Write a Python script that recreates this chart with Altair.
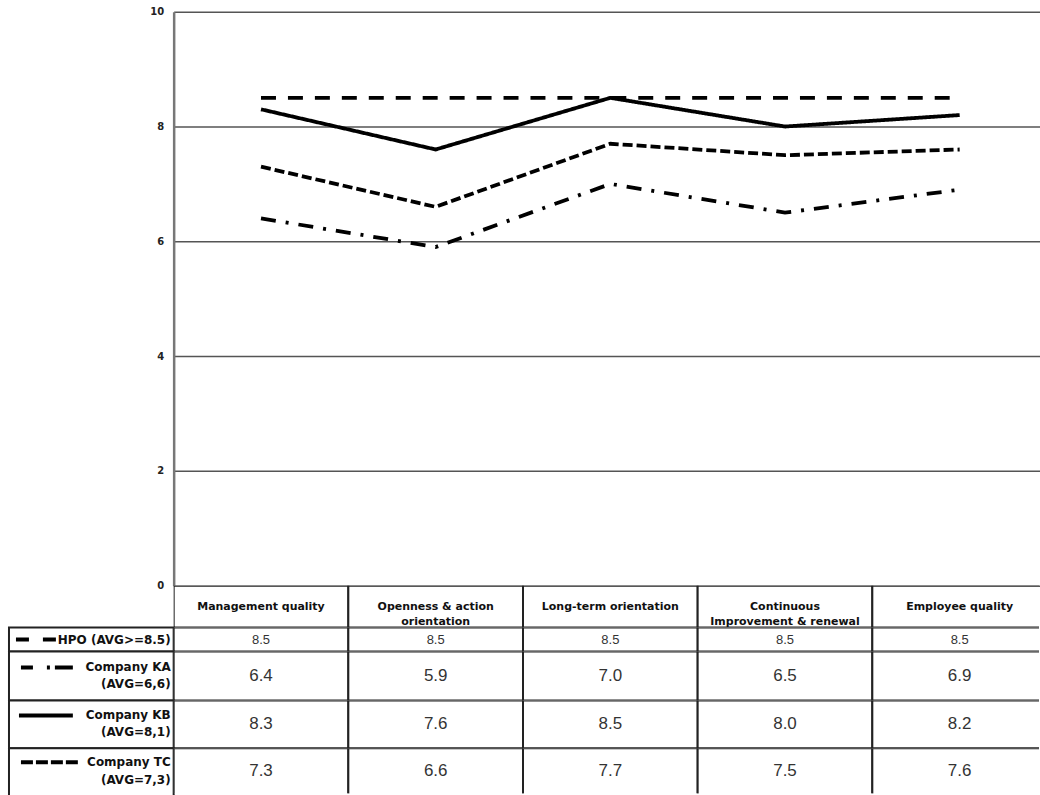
import altair as alt
import pandas as pd

# ---- data ----
categories = ["Management quality", "Openness & action orientation", "Long-term orientation",
              "Continuous improvement & renewal", "Employee quality"]
header_labels = ["Management quality", "Openness & action\norientation", "Long-term orientation",
                 "Continuous\nImprovement & renewal", "Employee quality"]
series_names = ["HPO", "Company KA", "Company KB", "Company TC"]
legend_line1 = ["HPO (AVG>=8.5)", "Company KA", "Company KB", "Company TC"]
legend_line2 = ["", "(AVG=6,6)", "(AVG=8,1)", "(AVG=7,3)"]
hpo = [8.5, 8.5, 8.5, 8.5, 8.5]
ka = [6.4, 5.9, 7.0, 6.5, 6.9]
kb = [8.3, 7.6, 8.5, 8.0, 8.2]
tc = [7.3, 6.6, 7.7, 7.5, 7.6]
y_ticks = [0, 2, 4, 6, 8, 10]

series_values = [hpo, ka, kb, tc]
dash_styles = [[15, 12], [15, 10, 3, 10], [1, 0], [10, 4]]

# ---- line panel ----
rows = []
for name, vals in zip(series_names, series_values):
    for c, v in zip(categories, vals):
        rows.append({"category": c, "value": v, "series": name})
line_df = pd.DataFrame(rows)

PLOT_W = 867
lines = alt.Chart(line_df).mark_line(color="black", strokeWidth=3.8).encode(
    x=alt.X("category:N", sort=categories,
            scale=alt.Scale(type="point", domain=categories, range=[0, 875], padding=0.5),
            axis=None),
    y=alt.Y("value:Q", scale=alt.Scale(domain=[0, 10], nice=False, zero=True),
            axis=alt.Axis(values=y_ticks, grid=True, gridColor="#555", gridWidth=1.5,
                          ticks=False, tickSize=0, domainColor="#777", domainWidth=2.5,
                          labelFont="DejaVu Sans", labelFontWeight="bold", labelFontSize=10,
                          labelColor="#222", labelPadding=10, title=None)),
    strokeDash=alt.StrokeDash("series:N",
                              scale=alt.Scale(domain=series_names, range=dash_styles),
                              legend=None),
    detail="series:N",
).properties(width=PLOT_W, height=575)

# ---- table ----
band = alt.Scale(type="band", domain=categories, range=[0, 875], paddingInner=0, paddingOuter=0)
BORDER = "#222"

header_df = pd.DataFrame({"cat": categories, "label": header_labels})
header_base = alt.Chart(header_df).properties(width=PLOT_W, height=42)
header = alt.layer(
    header_base.mark_rect(fill="white", stroke=BORDER, strokeWidth=2, clip=True).encode(
        x=alt.X("cat:N", scale=band, axis=None, sort=categories)),
    header_base.mark_text(font="DejaVu Sans", fontWeight="bold", fontSize=11, lineBreak="\n",
                          lineHeight=15, color="#111").encode(
        x=alt.X("cat:N", scale=band, axis=None, sort=categories),
        text="label:N"),
)

row_heights = [24, 49, 48, 45]
value_sizes = [13, 17, 17, 17]
text_y = [(12, None), (16, 33), (15, 32), (14, 32)]
sample_y = [12, 16, 15, 14]
sample_x = [(-158, -117), (-153, -101), (-155, -101), (-153, -95)]
sample_dash = [[13, 14], [12, 14, 3, 5, 18], [1, 0], [12, 3]]

row_panels = []
for i in range(4):
    h = row_heights[i]
    last = i == 3
    h2 = h + 8 if last else h
    df = pd.DataFrame({"cat": categories, "value": series_values[i]})
    base = alt.Chart(df).properties(width=PLOT_W, height=h)
    cells = base.mark_rect(fill="white", stroke=BORDER, strokeWidth=2, clip=True).encode(
        x=alt.X("cat:N", scale=band, axis=None, sort=categories),
        y=alt.value(0), y2=alt.value(h2))
    vals = base.mark_text(font="Liberation Sans", fontSize=value_sizes[i], color="#333").encode(
        x=alt.X("cat:N", scale=band, axis=None, sort=categories),
        text=alt.Text("value:Q", format=".1f"))
    leg_df = pd.DataFrame({"l1": [legend_line1[i]], "l2": [legend_line2[i]]})
    leg = alt.Chart(leg_df)
    box = leg.mark_rect(fill="white", stroke=BORDER, strokeWidth=2).encode(
        x=alt.value(-165), x2=alt.value(0), y=alt.value(0), y2=alt.value(h2))
    sample = leg.mark_rule(color="black", strokeWidth=4, strokeDash=sample_dash[i]).encode(
        x=alt.value(sample_x[i][0]), x2=alt.value(sample_x[i][1]), y=alt.value(sample_y[i]))
    t1 = leg.mark_text(font="DejaVu Sans", fontWeight="bold", fontSize=12, align="right",
                       color="#111").encode(
        x=alt.value(-3), y=alt.value(text_y[i][0]), text="l1:N")
    layers = [box, cells, vals, sample, t1]
    if text_y[i][1] is not None:
        t2 = leg.mark_text(font="DejaVu Sans", fontWeight="bold", fontSize=12, align="right",
                           color="#111").encode(
            x=alt.value(-3), y=alt.value(text_y[i][1]), text="l2:N")
        layers.append(t2)
    row_panels.append(alt.layer(*layers))

chart = alt.vconcat(lines, header, *row_panels, spacing=0, bounds="flush").resolve_scale(
    x="independent"
).properties(
    padding={"left": 7, "top": 5, "right": 0, "bottom": 0}
).configure_view(stroke="transparent")

chart.save("out.html", embed_options={"renderer": "svg", "actions": False})
